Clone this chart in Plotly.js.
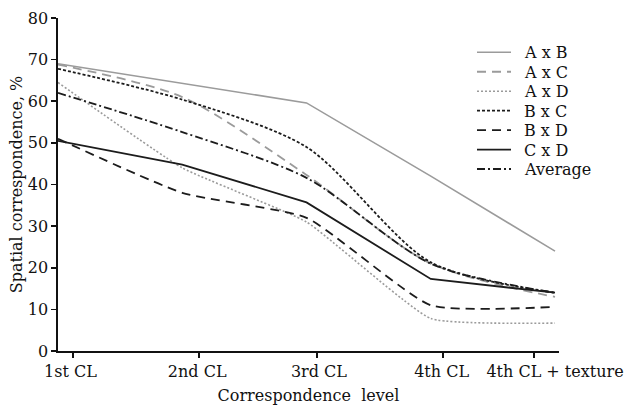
<!DOCTYPE html>
<html>
<head>
<meta charset="utf-8">
<script src="https://cdn.plot.ly/plotly-3.0.1.min.js"></script>
<style>html,body{margin:0;padding:0;background:#fff;}#chart{width:629px;height:405px;}</style>
</head>
<body>
<div id="chart"></div>
<script>
// Data
var levels = ["1st CL", "2nd CL", "3rd CL", "4th CL", "4th CL + texture"];
var levelIndex = [0, 1, 2, 3, 4];
var seriesNames = ["A x B", "A x C", "A x D", "B x C", "B x D", "C x D", "Average"];
var AxB = [69.0, 64.3, 59.6, 42.0, 24.0];
var AxC = [68.8, 61.0, 42.3, 21.0, 13.0];
var AxD = [64.5, 44.0, 31.0, 7.8, 6.7];
var BxC = [67.8, 60.4, 49.0, 21.3, 14.0];
var BxD = [51.0, 38.0, 32.0, 11.0, 10.6];
var CxD = [50.5, 44.8, 35.7, 17.3, 14.0];
var Avg = [62.0, 52.6, 41.6, 21.0, 14.0];

var gray = "#9b9b9b", black = "#1c1c1c";
var styles = [
  {color: gray,  dash: "solid", width: 1.6, shape: "linear", sm: 0},
  {color: gray,  dash: "9px,6px", width: 1.8, shape: "spline", sm: 0.8},
  {color: gray,  dash: "2px,2px", width: 1.6, shape: "spline", sm: 0.4},
  {color: black, dash: "3px,2px", width: 1.8, shape: "spline", sm: 0.8},
  {color: black, dash: "9px,6px", width: 1.8, shape: "spline", sm: 0.5},
  {color: black, dash: "solid", width: 1.8, shape: "linear", sm: 0},
  {color: black, dash: "8px,3px,2px,3px", width: 1.8, shape: "spline", sm: 0.8}
];
var values = [AxB, AxC, AxD, BxC, BxD, CxD, Avg];

var traces = values.map(function (v, i) {
  var t = {
    x: levelIndex, y: v, name: seriesNames[i], type: "scatter", mode: "lines",
    line: {color: styles[i].color, dash: styles[i].dash, width: styles[i].width,
           shape: styles[i].shape},
    xaxis: "x", yaxis: "y", showlegend: false
  };
  if (styles[i].shape === "spline") t.line.smoothing = styles[i].sm;
  return t;
});
// invisible trace that carries the tick-label axis
traces.push({x: [0], y: [0], xaxis: "x2", yaxis: "y", mode: "markers",
  marker: {opacity: 0}, showlegend: false, hoverinfo: "skip"});

// plot area in pixels: left 58, right 559, top 18, bottom 351
var L = 58, R = 559, T = 18, B = 351;
function px(x) { return (x - L) / (R - L); }
function py(y) { return (B - y) / (B - T); }

// hand-drawn legend (sample line + label per series)
var legTop = 52.3, legStep = 19.45;
var shapes = [], annotations = [];
seriesNames.forEach(function (name, i) {
  var yc = legTop + i * legStep;
  shapes.push({type: "line", xref: "paper", yref: "paper",
    x0: px(477), x1: px(511), y0: py(yc), y1: py(yc),
    line: {color: styles[i].color, dash: styles[i].dash, width: styles[i].width}});
  annotations.push({xref: "paper", yref: "paper", x: px(522), y: py(yc + 0.5),
    xanchor: "left", yanchor: "middle", showarrow: false, text: name,
    font: {family: "DejaVu Serif, serif", size: 16, color: "#111"}});
});

var F = "DejaVu Serif, Liberation Serif, serif";
var layout = {
  width: 629, height: 405,
  margin: {l: L, r: 629 - R, t: T, b: 405 - B},
  paper_bgcolor: "#fff", plot_bgcolor: "#fff",
  font: {family: F, size: 16, color: "#111"},
  showlegend: false,
  shapes: shapes, annotations: annotations,
  xaxis: {
    range: [0, 4.032], showgrid: false, zeroline: false,
    showline: true, linecolor: "#111", linewidth: 1.6,
    ticks: "outside", ticklen: 5, tickwidth: 1.6, tickcolor: "#111",
    tickmode: "array", tickvals: [0.121, 1.135, 2.084, 3.099, 3.831],
    ticktext: ["", "", "", "", ""], showticklabels: false,
    title: {text: "Correspondence  level", font: {family: F, size: 16}, standoff: 33}
  },
  xaxis2: {
    overlaying: "x", side: "bottom", range: [0, 4.032], showgrid: false, zeroline: false,
    showline: false, ticks: "", tickmode: "array",
    tickvals: [0.10, 1.12, 2.10, 3.087, 4.0], ticktext: levels,
    tickfont: {family: F, size: 16, color: "#111"}, ticklabelstandoff: 9
  },
  yaxis: {
    range: [0, 80], showgrid: false, zeroline: false,
    showline: true, linecolor: "#111", linewidth: 1.6,
    ticks: "outside", ticklen: 5, tickwidth: 1.6, tickcolor: "#111",
    tickvals: [0, 10, 20, 30, 40, 50, 60, 70, 80],
    tickfont: {family: F, size: 16, color: "#111"},
    title: {text: "Spatial correspondence, %", font: {family: F, size: 16}, standoff: 1}
  }
};
Plotly.newPlot("chart", traces, layout, {displayModeBar: false, staticPlot: true});
</script>
</body>
</html>
